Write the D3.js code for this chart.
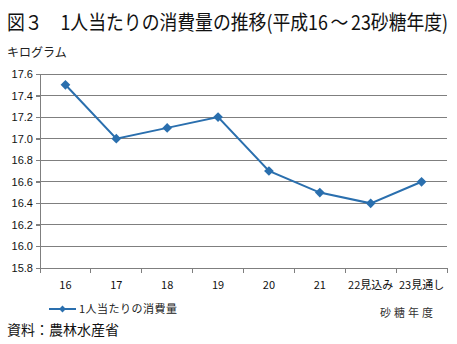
<!DOCTYPE html>
<html><head><meta charset="utf-8">
<script src="https://cdn.jsdelivr.net/npm/d3@7"></script>
<style>body{margin:0;background:#fff}svg{display:block}</style>
</head><body>
<script>
const categories = ["16","17","18","19","20","21","22見込み","23見通し"];
const values = [17.5, 17.0, 17.1, 17.2, 16.7, 16.5, 16.4, 16.6];
const yTicks = [15.8,16.0,16.2,16.4,16.6,16.8,17.0,17.2,17.4,17.6];
const seriesName = "1人当たりの消費量";

(function () {
const W = 457, H = 344;
const svg = d3.select("body").append("svg").attr("width", W).attr("height", H);
const jp = "'Noto Sans CJK JP', sans-serif";
const num = "'Liberation Sans', Arial, sans-serif";

const pl = 40, pr = 447, pt = 74, pb = 268;
const x = d3.scaleBand().domain(categories).range([pl, pr]);
const y = d3.scaleLinear().domain([15.8, 17.6]).range([pb, pt]);

const tg = svg.append("g");
const title = tg.append("text").attr("x", 0).attr("y", 0).attr("font-family", jp).attr("font-size", 20)
  .attr("fill", "#111");
title.append("tspan").text("図３　1人当たりの消費量の推移(平成16");
title.append("tspan").attr("dx", 3).text("～");
title.append("tspan").attr("dx", 3).text("23砂糖年度)");
const tw = title.node().getComputedTextLength();
const sx = Math.min(1, 436 / tw);
tg.attr("transform", `translate(7,30) scale(${sx},1)`);

svg.append("text").attr("x", 7).attr("y", 57).attr("font-family", jp).attr("font-size", 12)
  .attr("fill", "#222").text("キログラム");

svg.append("g").selectAll("line").data(yTicks).join("line")
  .attr("x1", pl - 4).attr("x2", pr).attr("y1", d => y(d)).attr("y2", d => y(d))
  .attr("stroke", "#7f7f7f").attr("stroke-width", 1).attr("shape-rendering", "crispEdges");

const ya = svg.append("g").attr("transform", `translate(${pl},0)`)
  .call(d3.axisLeft(y).tickValues(yTicks).tickFormat(d3.format(".1f")).tickSize(4).tickPadding(3));
ya.selectAll("path,line").attr("stroke", "#7f7f7f").attr("shape-rendering", "crispEdges");
ya.selectAll("text").attr("font-family", num).attr("font-size", 11).attr("fill", "#111");

const xa = svg.append("g").attr("transform", `translate(0,${pb})`)
  .call(d3.axisBottom(x).tickSize(0).tickPadding(13));
xa.select("path").attr("stroke", "#7f7f7f").attr("shape-rendering", "crispEdges");
xa.selectAll("text").attr("font-family", jp).attr("font-size", 11).attr("fill", "#111");
const bounds = categories.map(c => x(c)).concat([x(categories[categories.length-1]) + x.bandwidth()]);
svg.append("g").selectAll("line").data(bounds).join("line")
  .attr("x1", d => d).attr("x2", d => d).attr("y1", pb).attr("y2", pb + 5)
  .attr("stroke", "#7f7f7f").attr("shape-rendering", "crispEdges");

const color = "#2a6fae";
const cx = d => x(d) + x.bandwidth() / 2;
svg.append("path").datum(values)
  .attr("d", d3.line().x((d, i) => cx(categories[i])).y(d => y(d)))
  .attr("fill", "none").attr("stroke", color).attr("stroke-width", 2);
const diamond = d3.symbol().type(d3.symbolDiamond2).size(60);
svg.append("g").selectAll("path").data(values).join("path")
  .attr("transform", (d, i) => `translate(${cx(categories[i])},${y(d)})`)
  .attr("d", diamond).attr("fill", color);

svg.append("line").attr("x1", 49).attr("x2", 76).attr("y1", 309).attr("y2", 309)
  .attr("stroke", color).attr("stroke-width", 2);
svg.append("path").attr("transform", "translate(62.5,309)").attr("d", d3.symbol().type(d3.symbolDiamond2).size(30)).attr("fill", color);
svg.append("text").attr("x", 79).attr("y", 313).attr("font-family", jp).attr("font-size", 11)
  .attr("letter-spacing", 0.5).attr("fill", "#222").text(seriesName);

svg.append("text").attr("x", 380).attr("y", 317).attr("font-family", jp).attr("font-size", 11)
  .attr("fill", "#333").attr("letter-spacing", 3).text("砂糖年度");

svg.append("text").attr("x", 7).attr("y", 335).attr("font-family", jp).attr("font-size", 14)
  .attr("fill", "#111").text("資料：農林水産省");
})();
</script>
</body></html>
